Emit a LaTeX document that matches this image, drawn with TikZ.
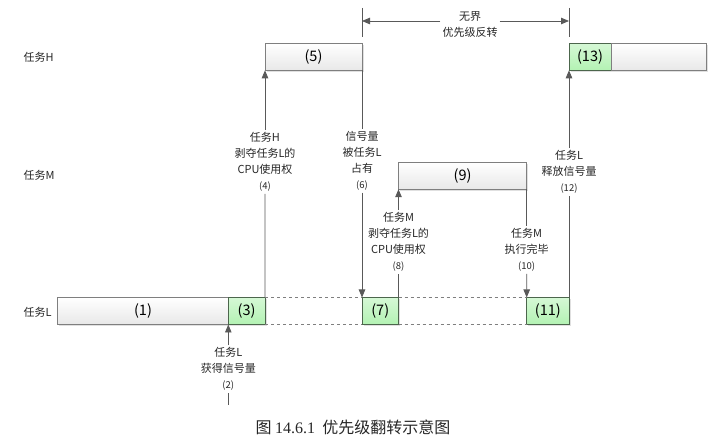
\documentclass[tikz,border=0pt]{standalone}
\usepackage{fontspec}
\setmainfont{Noto Sans CJK SC}
\newfontfamily\capfont{Liberation Serif}
\usetikzlibrary{arrows.meta,shadows,positioning}
\definecolor{edgegray}{HTML}{7F7F7F}
\definecolor{linegray}{HTML}{595959}
\definecolor{boxgreen}{HTML}{B3F2B3}
\newcommand{\stepno}[1]{{\fontsize{9.5}{16}\selectfont(#1)}}
\begin{document}
\begin{tikzpicture}[x=1pt, y=-1pt,
    every node/.style={font=\fontsize{11}{16}\selectfont, text=black!85},
    task/.style={draw=edgegray, line width=0.9pt, top color=white, bottom color=black!9,
        minimum height=27pt, inner sep=0pt, outer sep=0pt,
        font=\fontsize{14.5}{16}\selectfont, text=black,
        general shadow={fill=black!12, shadow xshift=1.5pt, shadow yshift=-1.5pt}},
    run/.style={task, top color=boxgreen!55, bottom color=boxgreen, draw=edgegray!85!green!70!black},
    note/.style={align=center, inner sep=2pt},
    link/.style={draw=linegray, line width=0.8pt},
    arr/.style={link, -{Triangle[width=6.5pt,length=8pt]}},
    gap/.style={draw=edgegray, dashed, line width=0.8pt}]
    \useasboundingbox (0,0) rectangle (726,438);

    % Rows
    \node[anchor=west] (rowH) at (20,57) {任务H};
    \node[anchor=west] (rowM) at (20,175.5) {任务M};
    \node[anchor=west] (rowL) at (20,312) {任务L};

    % Task L
    \node[task, minimum width=170.6pt] (b1) at (143,311) {(1)};
    \node[run, minimum width=36.7pt, right=0pt of b1] (b3) {(3)};
    \node[run, minimum width=36.5pt] (b7) at (380.25,311) {(7)};
    \node[run, minimum width=42.3pt] (b11) at (547.85,311) {(11)};
    \draw[gap] (b3.north east) -- (b7.north west);
    \draw[gap] (b3.south east) -- (b7.south west);
    \draw[gap] (b7.north east) -- (b11.north west);
    \draw[gap] (b7.south east) -- (b11.south west);

    % Task H and task M
    \node[task, minimum width=97pt] (b5) at (313.5,56.8) {(5)};
    \node[task, minimum width=128.2pt] (b9) at (462.6,175.7) {(9)};
    \node[run, minimum width=42pt] (b13) at (590,56.8) {(13)};
    \node[task, minimum width=95.7pt, right=0pt of b13] (b13r) {};

    % Events
    \coordinate (c2) at (228.3,405);
    \node[note] (n2) at (228.3,369) {任务L\\获得信号量\\\stepno{2}};
    \node[note] (n4) at (265,162) {任务H\\剥夺任务L的\\CPU使用权\\\stepno{4}};
    \node[note] (n6) at (362,161) {信号量\\被任务L\\占有\\\stepno{6}};
    \node[note] (n8) at (398.5,242) {任务M\\剥夺任务L的\\CPU使用权\\\stepno{8}};
    \node[note] (n10) at (526.7,250) {任务M\\执行完毕\\\stepno{10}};
    \node[note] (n12) at (569,172) {任务L\\释放信号量\\\stepno{12}};

    \draw[link] (c2) -- (n2.south);
    \draw[arr] (n2.north) -- (b3.south west);
    \draw[link] (b3.north east) -- (n4.south);
    \draw[arr] (n4.north) -- (b5.south west);
    \draw[link] (b5.south east) -- (n6.north);
    \draw[arr] (n6.south) -- (b7.north west);
    \draw[link] (b7.north east) -- (n8.south);
    \draw[arr] (n8.north) -- (b9.south west);
    \draw[link] (b9.south east) -- (n10.north);
    \draw[arr] (n10.south) -- (b11.north west);
    \draw[link] (b11.north east) -- (n12.south);
    \draw[arr] (n12.north) -- (b13.south west);

    % Unbounded inversion
    \coordinate (t1) at (362,8);
    \coordinate (t1b) at (362,37);
    \coordinate (t1m) at (362,21);
    \coordinate (t2) at (569,8);
    \coordinate (t2b) at (569,37);
    \coordinate (t2m) at (569,21);
    \draw[link] (t1) -- (t1b);
    \draw[link] (t2) -- (t2b);
    \node[note] (nt) at (470,24.5) {无界\\优先级反转};
    \draw[arr] (nt.west |- t1m) -- (t1m);
    \draw[arr] (nt.east |- t2m) -- (t2m);

    % Caption
    \node[font=\fontsize{16}{18}\selectfont] (cap) at (353,427) {图 {\capfont 14.6.1}\ \ 优先级翻转示意图};
\end{tikzpicture}
\end{document}
